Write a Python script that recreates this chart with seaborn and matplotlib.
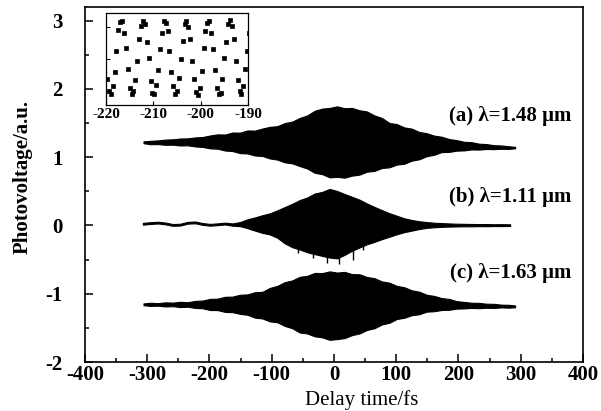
import matplotlib
matplotlib.use('Agg')
import matplotlib.pyplot as plt
from matplotlib.ticker import MultipleLocator
import seaborn as sns
import pandas as pd

# delay axis (fs) for traces (a) and (c)
delay_ac = [-306, -295, -283, -271, -259, -247, -235, -223, -211, -199, -187, -175, -163,
            -151, -139, -127, -115, -103, -91, -79, -67, -55, -43, -31, -19, -7, 5, 17, 29,
            41, 53, 65, 77, 89, 101, 113, 125, 137, 149, 161, 173, 185, 197, 209, 221, 233,
            245, 257, 269, 281, 291]

# (a) lambda = 1.48 um : upper / lower fringe envelope
a_upper = [1.232, 1.240, 1.246, 1.258, 1.262, 1.274, 1.276, 1.290, 1.296, 1.318, 1.335, 1.332,
           1.362, 1.360, 1.392, 1.390, 1.420, 1.445, 1.455, 1.500, 1.522, 1.575, 1.612, 1.680,
           1.712, 1.722, 1.745, 1.718, 1.722, 1.688, 1.670, 1.612, 1.575, 1.502, 1.485, 1.436,
           1.418, 1.370, 1.352, 1.316, 1.300, 1.266, 1.250, 1.226, 1.220, 1.198, 1.192, 1.176,
           1.172, 1.160, 1.152]
a_lower = [1.205, 1.190, 1.192, 1.182, 1.183, 1.172, 1.174, 1.158, 1.150, 1.130, 1.124, 1.098,
           1.090, 1.060, 1.055, 1.025, 1.018, 0.982, 0.965, 0.925, 0.910, 0.870, 0.835, 0.772,
           0.752, 0.705, 0.712, 0.700, 0.730, 0.745, 0.788, 0.800, 0.842, 0.852, 0.892, 0.905,
           0.950, 0.970, 1.015, 1.036, 1.075, 1.078, 1.096, 1.100, 1.114, 1.112, 1.120, 1.118,
           1.124, 1.122, 1.130]

# (c) lambda = 1.63 um
c_upper = [-1.142, -1.132, -1.138, -1.126, -1.130, -1.118, -1.124, -1.105, -1.100, -1.075,
           -1.072, -1.045, -1.042, -1.015, -1.010, -0.978, -0.972, -0.915, -0.885, -0.830,
           -0.805, -0.752, -0.738, -0.695, -0.698, -0.672, -0.690, -0.680, -0.712, -0.715,
           -0.755, -0.772, -0.820, -0.838, -0.885, -0.905, -0.950, -0.970, -1.015, -1.032,
           -1.064, -1.076, -1.108, -1.120, -1.132, -1.134, -1.146, -1.148, -1.160, -1.162,
           -1.172]
c_lower = [-1.168, -1.178, -1.175, -1.186, -1.182, -1.195, -1.190, -1.208, -1.213, -1.238,
           -1.240, -1.266, -1.270, -1.295, -1.308, -1.350, -1.362, -1.405, -1.418, -1.472,
           -1.505, -1.568, -1.582, -1.624, -1.638, -1.675, -1.664, -1.650, -1.606, -1.582,
           -1.530, -1.505, -1.450, -1.425, -1.370, -1.352, -1.314, -1.300, -1.262, -1.256,
           -1.238, -1.235, -1.218, -1.215, -1.208, -1.212, -1.205, -1.208, -1.200, -1.204,
           -1.198]

# (b) lambda = 1.11 um
delay_b = [-307, -295, -283, -271, -259, -247, -235, -223, -211, -199, -187, -175, -163, -151,
           -139, -127, -115, -103, -91, -79, -67, -55, -43, -31, -19, -7, 5, 17, 29, 41, 53,
           65, 77, 89, 101, 113, 125, 137, 149, 161, 173, 185, 197, 209, 221, 233, 245, 257,
           269, 283]
b_upper = [0.038, 0.048, 0.055, 0.043, 0.021, 0.025, 0.053, 0.058, 0.035, 0.023, 0.031, 0.041,
           0.030, 0.050, 0.090, 0.118, 0.150, 0.178, 0.222, 0.270, 0.318, 0.372, 0.410, 0.468,
           0.492, 0.535, 0.505, 0.462, 0.420, 0.378, 0.322, 0.272, 0.225, 0.180, 0.142, 0.105,
           0.080, 0.062, 0.050, 0.040, 0.035, 0.030, 0.026, 0.024, 0.022, 0.020, 0.021, 0.018,
           0.019, 0.017]
b_lower = [0.012, 0.022, 0.029, 0.017, -0.005, -0.001, 0.027, 0.032, 0.009, -0.003, 0.005,
           0.015, -0.003, -0.010, -0.040, -0.075, -0.108, -0.132, -0.180, -0.262, -0.318,
           -0.352, -0.392, -0.420, -0.445, -0.470, -0.482, -0.430, -0.370, -0.322, -0.275,
           -0.240, -0.200, -0.165, -0.128, -0.098, -0.075, -0.052, -0.035, -0.026, -0.020,
           -0.016, -0.014, -0.012, -0.012, -0.010, -0.011, -0.008, -0.009, -0.007]
b_spike_x = [-58, -34, -12, 8, 30, 46]
b_spike_lo = [-0.40, -0.47, -0.55, -0.57, -0.50, -0.36]

# inset: fringes of trace (a) far in the wing
inset_t = [-219.8, -219.4, -219.0, -218.6, -218.2, -217.8, -217.4, -217.0, -216.6, -216.2,
           -215.8, -215.4, -215.0, -214.6, -214.2, -213.8, -213.4, -213.0, -212.6, -212.2,
           -211.8, -211.4, -211.0, -210.6, -210.2, -209.8, -209.4, -209.0, -208.6, -208.2,
           -207.8, -207.4, -207.0, -206.6, -206.2, -205.8, -205.4, -205.0, -204.6, -204.2,
           -203.8, -203.4, -203.0, -202.6, -202.2, -201.8, -201.4, -201.0, -200.6, -200.2,
           -199.8, -199.4, -199.0, -198.6, -198.2, -197.8, -197.4, -197.0, -196.6, -196.2,
           -195.8, -195.4, -195.0, -194.6, -194.2, -193.8, -193.4, -193.0, -192.6, -192.2,
           -191.8, -191.4, -191.0, -190.6, -190.2, -189.8]
inset_v = [0.22, 0.05, 0.01, 0.12, 0.31, 0.58, 0.86, 0.97, 0.99, 0.83, 0.62, 0.35, 0.10, 0.02,
           0.05, 0.20, 0.45, 0.74, 0.92, 0.99, 0.94, 0.71, 0.49,
           0.19, 0.03, 0.02, 0.13, 0.34, 0.61, 0.82, 0.99, 0.96, 0.85, 0.58, 0.31, 0.12, 0.01,
           0.06, 0.23, 0.48, 0.72, 0.95, 0.98, 0.91, 0.75, 0.46,
           0.21, 0.04, 0.00, 0.10, 0.32, 0.63, 0.85, 0.96, 0.98, 0.82, 0.61, 0.34, 0.09, 0.02,
           0.03, 0.22, 0.49, 0.71, 0.94, 1.00, 0.92, 0.74, 0.45,
           0.20, 0.05, 0.01, 0.12, 0.35, 0.59, 0.83]

labels = ['(a) λ=1.48 μm', '(b) λ=1.11 μm', '(c) λ=1.63 μm']
label_y = [1.60, 0.41, -0.70]

sns.set_theme(style='ticks')
plt.rcParams['font.family'] = ['Liberation Serif', 'DejaVu Serif']
plt.rcParams['axes.unicode_minus'] = False
plt.rcParams['axes.linewidth'] = 1.2
for key in ['text.color', 'axes.labelcolor', 'axes.edgecolor', 'xtick.color', 'ytick.color']:
    plt.rcParams[key] = 'black'

fig = plt.figure(figsize=(6.01, 4.11), dpi=100)
ax = fig.add_axes([0.1414, 0.1192, 0.8286, 0.8637])

for x, lo, up in [(delay_ac, a_lower, a_upper), (delay_b, b_lower, b_upper),
                  (delay_ac, c_lower, c_upper)]:
    ax.fill_between(x, lo, up, color='black', lw=0.8)
ax.vlines(b_spike_x, 0, b_spike_lo, color='black', lw=1.0)

for txt, yy in zip(labels, label_y):
    ax.text(381, yy, txt, ha='right', va='center', fontsize=15, fontweight='bold')

ax.set_xlim(-400, 400)
ax.set_ylim(-2, 3.2)
ax.set_yticks([-2, -1, 0, 1, 2, 3])
ax.xaxis.set_major_locator(MultipleLocator(100))
ax.xaxis.set_minor_locator(MultipleLocator(50))
ax.yaxis.set_minor_locator(MultipleLocator(0.5))
ax.tick_params(which='both', direction='in', top=False, right=False, width=1.1)
ax.tick_params(which='major', length=6, labelsize=15)
ax.tick_params(which='minor', length=3)
ax.tick_params(axis='y', pad=16)
ax.tick_params(axis='x', pad=2)
for lab in ax.get_xticklabels() + ax.get_yticklabels():
    lab.set_fontweight('bold')
ax.set_xlabel('Delay time/fs', fontsize=15)
ax.set_ylabel('Photovoltage/a.u.', fontsize=15, fontweight='bold')
ax.xaxis.set_label_coords(0.556, -0.078)
ax.yaxis.set_label_coords(-0.105, 0.52)

# inset
ins = fig.add_axes([0.1764, 0.7445, 0.2363, 0.2238])
df = pd.DataFrame({'t': inset_t, 'v': inset_v})
sns.scatterplot(data=df, x='t', y='v', ax=ins, marker='s', s=10, color='black',
                edgecolor='black', linewidth=0.5, legend=False)
ins.set_xlim(-220, -190)
ins.set_ylim(-0.13, 1.09)
ins.set_xticks([-220, -210, -200, -190])
ins.set_yticks([0.05, 0.48, 0.9])
ins.set_yticklabels([])
ins.set_xlabel('')
ins.set_ylabel('')
ins.tick_params(direction='in', length=3, width=0.8, labelsize=11, pad=2)
for lab in ins.get_xticklabels():
    lab.set_fontweight('bold')
for sp in ins.spines.values():
    sp.set_linewidth(0.9)

fig.savefig('out.png', dpi=100)
